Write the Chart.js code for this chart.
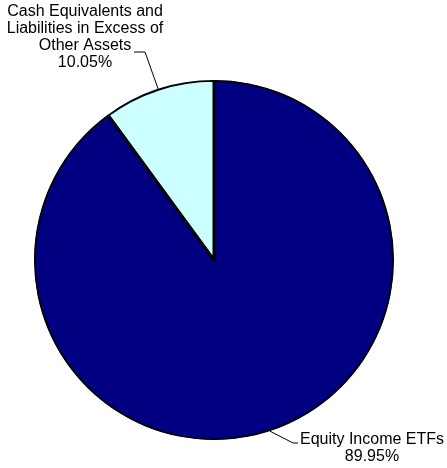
<!DOCTYPE html>
<html>
<head>
<meta charset="utf-8">
<script src="https://cdn.jsdelivr.net/npm/chart.js@4/dist/chart.umd.min.js"></script>
<style>
  html, body { margin: 0; padding: 0; background: #fff; }
  #wrap { width: 447px; height: 468px; }
</style>
</head>
<body>
<div id="wrap"><canvas id="pieChart" width="447" height="468"></canvas></div>
<script>
// data
var categories = ["Equity Income ETFs", "Cash Equivalents and Liabilities in Excess of Other Assets"];
var values = [89.95, 10.05];
var colors = ["#000080", "#CCFFFF"];

// label layout (text lines, text centre, elbow of leader line)
var labelLayout = [
  { lines: ["Equity Income ETFs", "89.95%"], cx: 372, y: 440, elbow: [293, 443], end: [298, 443] },
  { lines: ["Cash Equivalents and", "Liabilities in Excess of", "Other Assets", "10.05%"], cx: 85, y: 12, elbow: [145, 52], end: [134, 52] }
];

var leaderLabels = {
  id: "leaderLabels",
  afterDatasetsDraw: function(chart) {
    var ctx = chart.ctx;
    var meta = chart.getDatasetMeta(0);
    ctx.save();
    meta.data.forEach(function(arc, i) {
      var p = arc.getProps(["x", "y", "startAngle", "endAngle", "outerRadius"], true);
      var mid = (p.startAngle + p.endAngle) / 2;
      var sx = p.x + Math.cos(mid) * p.outerRadius;
      var sy = p.y + Math.sin(mid) * p.outerRadius;
      var l = labelLayout[i];
      ctx.strokeStyle = "#000";
      ctx.lineWidth = 1;
      ctx.beginPath();
      ctx.moveTo(sx, sy);
      ctx.lineTo(l.elbow[0], l.elbow[1]);
      ctx.lineTo(l.end[0], l.end[1]);
      ctx.stroke();
      ctx.fillStyle = "#000";
      ctx.font = "16px 'Liberation Sans', Arial, sans-serif";
      ctx.textAlign = "center";
      ctx.textBaseline = "middle";
      l.lines.forEach(function(t, k) {
        ctx.fillText(t, l.cx, l.y + k * 17);
      });
    });
    ctx.restore();
  }
};

var ctx = document.getElementById("pieChart").getContext("2d");
var myChart = new Chart(ctx, {
  type: "pie",
  data: {
    labels: categories,
    datasets: [{
      data: values,
      backgroundColor: colors,
      borderColor: "#000",
      borderWidth: 1.5,
      borderAlign: "inner"
    }]
  },
  options: {
    responsive: false,
    animation: false,
    layout: { padding: { left: 34, right: 53, top: 80, bottom: 28 } },
    plugins: {
      legend: { display: false },
      tooltip: { enabled: false }
    }
  },
  plugins: [leaderLabels]
});
</script>
</body>
</html>
